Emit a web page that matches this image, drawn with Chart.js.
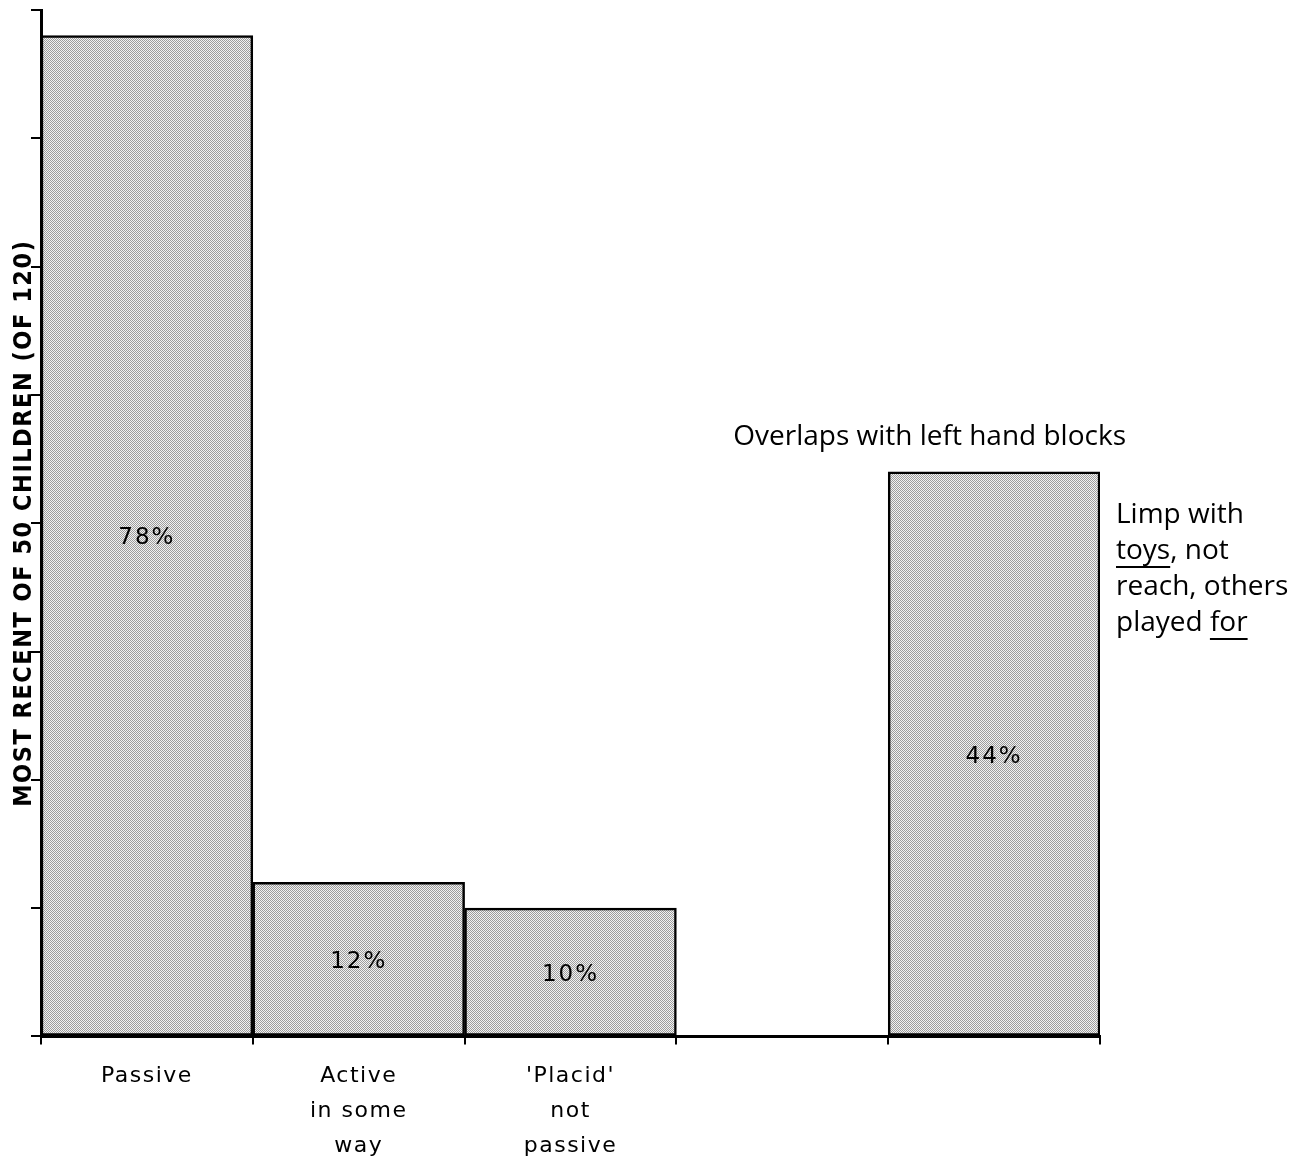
<!DOCTYPE html>
<html><head><meta charset="utf-8">
<script src="https://cdn.jsdelivr.net/npm/chart.js@4/dist/chart.umd.min.js"></script>
<style>html,body{margin:0;padding:0;background:#fff;}canvas{display:block}</style>
</head><body>
<canvas id="c" width="1306" height="1164"></canvas>
<script>
// ---- data ----
const categories = [["Passive"], ["Active", "in some", "way"], ["'Placid'", "not", "passive"], "", ""];
const percentValues = [78, 12, 10, null, 44];
const yAxisMin = 0;
const yAxisMax = 80;
const yAxisStep = 10;
const yAxisTitle = "MOST RECENT OF 50 CHILDREN (OF 120)";
const noteAbove = "Overlaps with left hand blocks";
const noteSide = [
  [["Limp with", false]],
  [["toys", true], [", not", false]],
  [["reach, others", false]],
  [["played ", false], ["for", true]]
];

// ---- styles ----
function makePattern() {
  const c = document.createElement('canvas');
  c.width = 4; c.height = 4;
  const x = c.getContext('2d');
  x.fillStyle = '#f2f2f2'; x.fillRect(0, 0, 4, 4);
  x.fillStyle = '#9c9c9c';
  for (let i = 0; i < 4; i++) for (let j = 0; j < 4; j++) if ((i + j) % 2 === 0) x.fillRect(i, j, 1, 1);
  return x.createPattern(c, 'repeat');
}
const fill = makePattern();
const noteFont = '28px "Open Sans", sans-serif';

const labelPlugin = {
  id: 'labels',
  beforeDraw(chart) {
    chart.ctx.letterSpacing = '1.5px';
  },
  afterDatasetsDraw(chart) {
    const ctx = chart.ctx;
    const meta = chart.getDatasetMeta(0);
    ctx.save();
    ctx.letterSpacing = '2px';
    ctx.font = '23px "DejaVu Sans", sans-serif';
    ctx.fillStyle = '#000';
    ctx.textAlign = 'center';
    ctx.textBaseline = 'middle';
    meta.data.forEach((bar, i) => {
      if (percentValues[i] == null) return;
      ctx.fillText(percentValues[i] + '%', bar.x, (bar.y + bar.base) / 2 + 3);
    });
    ctx.restore();
  },
  afterDraw(chart) {
    const ctx = chart.ctx;
    const bar = chart.getDatasetMeta(0).data[4];
    const left = bar.x - bar.width / 2, right = bar.x + bar.width / 2, top = bar.y;
    ctx.save();
    ctx.letterSpacing = '0px';
    ctx.font = noteFont;
    ctx.fillStyle = '#000';
    ctx.strokeStyle = '#000';
    ctx.lineWidth = 2;
    ctx.textBaseline = 'middle';
    ctx.textAlign = 'left';
    ctx.fillText(noteAbove, left - 155, top - 35);
    noteSide.forEach((segs, li) => {
      let x = right + 16;
      const y = top + 43 + li * 36;
      segs.forEach(([t, u]) => {
        ctx.fillText(t, x, y);
        const w = ctx.measureText(t).width;
        if (u) {
          ctx.beginPath();
          ctx.moveTo(x, y + 16);
          ctx.lineTo(x + w, y + 16);
          ctx.stroke();
        }
        x += w;
      });
    });
    ctx.restore();
  }
};

new Chart(document.getElementById('c'), {
  type: 'bar',
  data: {
    labels: categories,
    datasets: [{
      data: percentValues,
      backgroundColor: fill,
      borderColor: '#000',
      borderWidth: 2.5,
      borderSkipped: false,
      barPercentage: 1,
      categoryPercentage: 1
    }]
  },
  options: {
    responsive: false,
    animation: false,
    devicePixelRatio: 1,
    layout: { padding: { top: 10, right: 206, bottom: -14, left: 0 } },
    plugins: { legend: { display: false }, tooltip: { enabled: false } },
    scales: {
      x: {
        offset: true,
        grid: { offset: true, drawOnChartArea: false, tickLength: 8, color: '#000', lineWidth: 2 },
        border: { color: '#000', width: 3 },
        ticks: {
          font: { family: '"DejaVu Sans", sans-serif', size: 22, lineHeight: 1.6 },
          color: '#000', padding: 14, maxRotation: 0, autoSkip: false
        }
      },
      y: {
        min: yAxisMin, max: yAxisMax,
        ticks: { stepSize: yAxisStep, display: false },
        grid: { drawOnChartArea: false, tickLength: 10, color: '#000', lineWidth: 2 },
        border: { color: '#000', width: 3 },
        title: {
          display: true, text: yAxisTitle, color: '#000',
          font: { family: '"Liberation Sans Narrow", "DejaVu Sans Condensed", sans-serif', size: 25, weight: 'bold', lineHeight: 1 },
          padding: { top: 12, bottom: -6 }
        }
      }
    }
  },
  plugins: [labelPlugin]
});
</script>
</body></html>
